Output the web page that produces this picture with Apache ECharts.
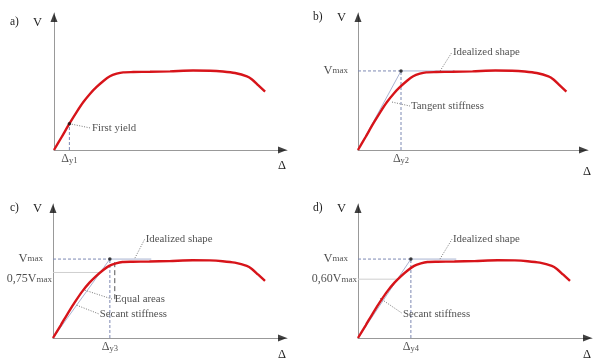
<!DOCTYPE html>
<html><head><meta charset="utf-8">
<script src="https://cdn.jsdelivr.net/npm/echarts@6/dist/echarts.min.js"></script>
<style>html,body{margin:0;padding:0;background:#fff}#c{width:600px;height:364px}</style>
</head><body><div id="c"></div>
<script>
// ---- data (axis units: 0..100 along each axis) ----
const panelLetters = ['a)', 'b)', 'c)', 'd)'];
const curveX = [0, 3.3, 6.6, 9.7, 12.6, 15.5, 18.3, 21.2, 24.0, 26.9, 29.7, 34.0, 41.2, 49.8, 59.7, 67.0, 72.5, 77.7, 82.8, 85.0, 87.6, 90.6];
const curveY = [0, 9.5, 19.2, 27.7, 35.0, 41.1, 46.0, 50.4, 53.8, 55.7, 56.7, 56.9, 57.1, 57.4, 58.0, 57.9, 57.3, 56.2, 53.8, 51.5, 47.4, 42.6];
// panel a
const yieldA = [6.6, 19.2];
// panel b
const vmaxB = 57.7, dyB = 18.7, idealEndB = 42;
// panel c
const vmaxC = 58.9, dyC = 24.3, v75C = 48.9, v75EndC = 20, eqAreaX = 26.4, eqAreaY = [56.6, 28.9], idealEndC = 42;
// panel d
const vmaxD = 58.9, dyD = 22.6, v60D = 43.9, v60EndD = 16.7, idealEndD = 42;
// annotation texts
const yLabels = ['V', 'V', 'V', 'V'];
const xLabel = 'Δ';
const dyLabels = ['y1', 'y2', 'y3', 'y4'];

// ---- layout ----
const boxes = [[54, 13, 233, 137], [358, 13, 230, 137], [53, 204, 234, 134], [358, 204, 234, 134]];
const FONT = '"Liberation Serif", "Times New Roman", serif';
const DASH = '#7d89b3', LIGHT = '#a9b3d2', LEAD = '#777', GRAY = '#999';
const FS = 10.8;

const grids = boxes.map(b => ({left: b[0], top: b[1], width: b[2], height: b[3]}));
const xAxes = boxes.map((b, i) => ({gridIndex: i, type: 'value', min: 0, max: 100,
  axisLine: {show: true, lineStyle: {color: GRAY, width: 1}}, axisTick: {show: false}, axisLabel: {show: false}, splitLine: {show: false}}));
const yAxes = boxes.map((b, i) => ({gridIndex: i, type: 'value', min: 0, max: 100,
  axisLine: {show: true, lineStyle: {color: GRAY, width: 1}}, axisTick: {show: false}, axisLabel: {show: false}, splitLine: {show: false}}));

const series = [];
function seg(gi, pts, color, type, width, z) {
  series.push({type: 'line', xAxisIndex: gi, yAxisIndex: gi, data: pts, symbol: 'none', silent: true, z: z || 3,
    lineStyle: {color: color, width: width || 1, type: type || 'solid'}, animation: false});
}
function dot(gi, x, y) {
  series.push({type: 'scatter', xAxisIndex: gi, yAxisIndex: gi, data: [[x, y]], symbolSize: 3.5, z: 6,
    itemStyle: {color: '#111'}, silent: true, animation: false});
}
function label(gi, x, y, text, pos, dist, size, rich) {
  series.push({type: 'scatter', xAxisIndex: gi, yAxisIndex: gi, data: [[x, y]], symbolSize: 0, clip: false, z: 7,
    silent: true, animation: false, itemStyle: {color: 'transparent'},
    label: {show: true, position: pos, distance: dist, formatter: text, fontFamily: FONT, fontSize: size || FS, color: '#1e1e1e', rich: rich || {}}});
}
const subRich = {m: {fontFamily: FONT, fontSize: 12, color: '#1e1e1e', padding: [0, 0, 4, 0]}, s: {fontFamily: FONT, fontSize: 8.5, color: '#1e1e1e'}};
const vmaxRich = {m: {fontFamily: FONT, fontSize: 12.5, color: '#1e1e1e'}, s: {fontFamily: FONT, fontSize: 9, color: '#1e1e1e'}, n: {fontFamily: FONT, fontSize: 12, color: '#1e1e1e'}};

for (let i = 0; i < 4; i++) {
  // arrowheads
  series.push({type: 'scatter', xAxisIndex: i, yAxisIndex: i, data: [[100 - 4.5 / boxes[i][2] * 100, 0]], symbol: 'triangle',
    symbolSize: [7, 9], symbolRotate: -90, clip: false, itemStyle: {color: '#111'}, silent: true, z: 8, animation: false});
  series.push({type: 'scatter', xAxisIndex: i, yAxisIndex: i, data: [[0, 100 - 4.5 / boxes[i][3] * 100]], symbol: 'triangle',
    symbolSize: [7, 9], clip: false, itemStyle: {color: '#111'}, silent: true, z: 8, animation: false});
}

// panel a
seg(0, [[yieldA[0], 0], yieldA], DASH, [3, 2]);
seg(0, [yieldA, [15.5, 16.1]], LEAD, [1, 1.5]);
dot(0, yieldA[0], yieldA[1]);
label(0, 16.3, 16.1, 'First yield', 'right', 0);
label(0, yieldA[0], 0, '{m|Δ}{s|' + dyLabels[0] + '}', 'bottom', 3, 12, subRich);

// panel b
seg(1, [[0, vmaxB], [dyB, vmaxB]], DASH, [3, 2]);
seg(1, [[dyB, vmaxB], [idealEndB, vmaxB]], LIGHT, 'solid');
seg(1, [[dyB, 0], [dyB, vmaxB]], DASH, [3, 2]);
seg(1, [[0, 0], [dyB, vmaxB]], LIGHT, 'solid');
seg(1, [[35.7, 57.7], [40.9, 71.5]], LEAD, [1, 1.5]);
seg(1, [[14.8, 35.0], [22.6, 32.1]], LEAD, [1, 1.5]);
dot(1, dyB, vmaxB);
label(1, 41.3, 71.5, 'Idealized shape', 'right', 0);
label(1, 23.0, 32.1, 'Tangent stiffness', 'right', 0);
label(1, 0, vmaxB, '{m|V}{s|max}', 'left', 10, 12, vmaxRich);
label(1, dyB, 0, '{m|Δ}{s|' + dyLabels[1] + '}', 'bottom', 3, 12, subRich);

// panel c
seg(2, [[0, vmaxC], [dyC, vmaxC]], DASH, [3, 2]);
seg(2, [[dyC, vmaxC], [idealEndC, vmaxC]], LIGHT, 'solid');
seg(2, [[dyC, 0], [dyC, vmaxC]], DASH, [3, 2]);
seg(2, [[0, v75C], [v75EndC, v75C]], '#cfcfcf', 'solid');
seg(2, [[0, 0], [dyC, vmaxC]], LIGHT, 'solid');
seg(2, [[eqAreaX, eqAreaY[0]], [eqAreaX, eqAreaY[1]]], '#555', [5, 3]);
seg(2, [[35.0, 59.6], [39.2, 73.8]], LEAD, [1, 1.5]);
seg(2, [[13.6, 35.7], [25.5, 28.9]], LEAD, [1, 1.5]);
seg(2, [[10.1, 24.5], [20.0, 17.7]], LEAD, [1, 1.5]);
dot(2, dyC, vmaxC);
label(2, 39.6, 73.8, 'Idealized shape', 'right', 0);
label(2, eqAreaX, 28.9, 'Equal areas', 'right', 0);
label(2, 20.0, 17.7, 'Secant stiffness', 'right', 0);
label(2, 0, vmaxC, '{m|V}{s|max}', 'left', 10, 12, vmaxRich);
label(2, 0, v75C - 5, '{n|0,75V}{s|max}', 'left', 1, 12, vmaxRich);
label(2, dyC, 0, '{m|Δ}{s|' + dyLabels[2] + '}', 'bottom', 3, 12, subRich);

// panel d
seg(3, [[0, vmaxD], [dyD, vmaxD]], DASH, [3, 2]);
seg(3, [[dyD, vmaxD], [idealEndD, vmaxD]], LIGHT, 'solid');
seg(3, [[dyD, 0], [dyD, vmaxD]], DASH, [3, 2]);
seg(3, [[0, v60D], [v60EndD, v60D]], '#cfcfcf', 'solid');
seg(3, [[0, 0], [dyD, vmaxD]], LIGHT, 'solid');
seg(3, [[35.0, 58.9], [40.2, 73.8]], LEAD, [1, 1.5]);
seg(3, [[9.4, 29.7], [18.8, 18.5]], LEAD, [1, 1.5]);
dot(3, dyD, vmaxD);
label(3, 40.6, 73.8, 'Idealized shape', 'right', 0);
label(3, 19.2, 17.7, 'Secant stiffness', 'right', 0);
label(3, 0, vmaxD, '{m|V}{s|max}', 'left', 10, 12, vmaxRich);
label(3, 0, v60D, '{n|0,60V}{s|max}', 'left', 1, 12, vmaxRich);
label(3, dyD, 0, '{m|Δ}{s|' + dyLabels[3] + '}', 'bottom', 3, 12, subRich);

// red curves
const curve = curveX.map((x, k) => [x, curveY[k]]);
for (let i = 0; i < 4; i++) {
  series.push({type: 'line', xAxisIndex: i, yAxisIndex: i, data: curve, symbol: 'none', smooth: 0.25, silent: true, z: 4,
    lineStyle: {color: '#d7141a', width: 2.4}, animation: false});
}

// panel letters and axis names
const letterPos = [[10, 23], [313, 18], [10, 209], [313, 209]];
const vPos = [[33, 23], [337, 18], [33, 209], [337, 209]];
const dPos = [[278, 166], [583, 172], [278, 355], [583, 355]];
const graphic = [];
for (let i = 0; i < 4; i++) {
  graphic.push({type: 'text', left: letterPos[i][0], top: letterPos[i][1] - 7, style: {text: panelLetters[i], font: '11.5px ' + FONT, fill: '#1e1e1e'}});
  graphic.push({type: 'text', left: vPos[i][0], top: vPos[i][1] - 7, style: {text: yLabels[i], font: '12.5px ' + FONT, fill: '#1e1e1e'}});
  graphic.push({type: 'text', left: dPos[i][0], top: dPos[i][1] - 7, style: {text: xLabel, font: '12.5px ' + FONT, fill: '#1e1e1e'}});
}

const chart = echarts.init(document.getElementById('c'), null, {renderer: 'canvas'});
chart.setOption({animation: false, backgroundColor: '#fff', grid: grids, xAxis: xAxes, yAxis: yAxes, series: series, graphic: graphic});
</script></body></html>
